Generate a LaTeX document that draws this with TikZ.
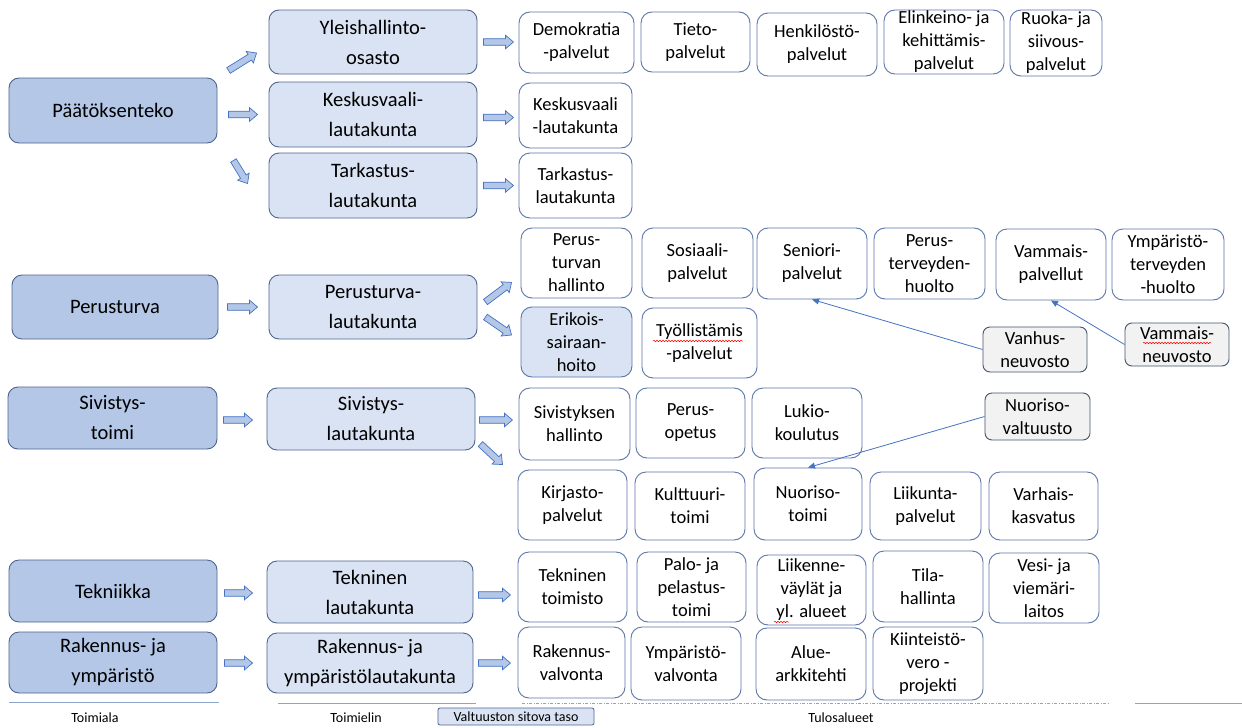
\documentclass[tikz,border=0pt]{standalone}
\usepackage{fontspec}
\setmainfont{Carlito}
\usetikzlibrary{calc,arrows.meta,decorations.pathmorphing}
\definecolor{cafill}{HTML}{B4C7E7}
\definecolor{cbfill}{HTML}{DAE3F3}
\definecolor{bord}{HTML}{4F6490}
\definecolor{ucbord}{HTML}{5B76A8}
\definecolor{grfill}{HTML}{F2F2F2}
\definecolor{grbord}{HTML}{44546A}
\definecolor{arrline}{HTML}{4472C4}
\definecolor{rulecol}{HTML}{8EA3C8}
\tikzset{
 big/.style={rounded corners=10pt, draw=bord, line width=0.9pt, inner sep=0pt, align=center, font=\fontsize{20.5}{30}\selectfont},
 lvla/.style={big, fill=cafill},
 lvlb/.style={big, fill=cbfill},
 unit/.style={rounded corners=11pt, draw=ucbord, line width=0.9pt, fill=white, inner sep=0pt, align=center, font=\fontsize{18.5}{23}\selectfont},
 unitb/.style={unit, fill=cbfill},
 council/.style={rounded corners=7pt, draw=grbord, line width=0.9pt, fill=grfill, inner sep=0pt, align=center, font=\fontsize{18.5}{23}\selectfont},
 blockarr/.style={fill=cafill, draw=arrline, line width=0.7pt, line join=miter},
 link/.style={draw=arrline, line width=0.8pt, -{Triangle[length=7pt,width=6pt]}},
 spell/.style={draw=red, line width=0.5pt, decorate, decoration={snake, segment length=3pt, amplitude=0.7pt}},
 caption/.style={font=\fontsize{14}{17}\selectfont, inner sep=0pt},
 solidrule/.style={draw=rulecol, line width=0.9pt},
 dotrule/.style={draw=rulecol, line width=0.9pt, dash pattern=on 3pt off 1.5pt on 1pt off 1.5pt},
}
\newcommand\bx[6]{\node[#1, minimum width=#3, minimum height=#4] (#2) at (#5) {#6};}
\newcommand\blkarrow[2]{%
 \path (#1) coordinate (ba-s) (#2) coordinate (ba-e);
 \path ($(ba-e)!8pt!(ba-s)$) coordinate (ba-m);
 \filldraw[blockarr] ($(ba-s)!3.3pt!90:(ba-e)$) -- ($(ba-m)!3.3pt!-90:(ba-s)$) -- ($(ba-m)!6.8pt!-90:(ba-s)$) -- (ba-e) -- ($(ba-m)!6.8pt!90:(ba-s)$) -- ($(ba-m)!3.3pt!90:(ba-s)$) -- ($(ba-s)!3.3pt!-90:(ba-e)$) -- cycle;}
\begin{document}
\begin{tikzpicture}[x=1pt,y=-1pt]
\useasboundingbox[fill=white] (0,0) rectangle (1242,728);
% column 1
\bx{lvla}{paat}{208}{65}{113,110.5}{Päätöksenteko}
\bx{lvla}{perus}{206}{64}{115,307}{Perusturva}
\bx{lvla}{sivi}{209}{62}{112.5,418}{Sivistys-\\toimi}
\bx{lvla}{tekn}{208}{62}{113,591}{Tekniikka}
\bx{lvla}{rak}{208}{61}{113,662.5}{Rakennus- ja\\ympäristö}
% column 2
\bx{lvlb}{yleis}{208}{64}{373,42}{Yleishallinto-\\osasto}
\bx{lvlb}{kesk}{208}{65}{373,114.5}{Keskusvaali-\\lautakunta}
\bx{lvlb}{tark}{208}{65}{373,185.5}{Tarkastus-\\lautakunta}
\bx{lvlb}{plk}{208}{64}{373,307}{Perusturva-\\lautakunta}
\bx{lvlb}{slk}{208}{62}{371,419}{Sivistys-\\lautakunta}
\bx{lvlb}{tlk}{206}{62}{370,592}{Tekninen\\lautakunta}
\bx{lvlb}{rlk}{206}{60}{370,663}{Rakennus- ja\\ympäristölautakunta}
% column 3
\bx{unit}{demo}{115}{61}{576.5,42.5}{Demokratia\\-palvelut}
\bx{unit}{tieto}{109}{60}{695.5,42}{Tieto-\\palvelut}
\bx{unit}{henk}{120}{63}{817,44.5}{Henkilöstö-\\palvelut}
\bx{unit}{elin}{120}{64}{944,42}{Elinkeino- ja\\kehittämis-\\palvelut}
\bx{unit}{ruoka}{92}{66}{1056,43}{Ruoka- ja\\siivous-\\palvelut}
\bx{unit}{keskl}{113}{65}{575.5,115.5}{Keskusvaali\\-lautakunta}
\bx{unit}{tarkl}{113}{65}{575.5,185.5}{Tarkastus-\\lautakunta}
\bx{unit}{ptha}{111}{70}{576.5,263}{Perus-\\turvan\\hallinto}
\bx{unit}{sos}{111}{70}{697.5,263}{Sosiaali-\\palvelut}
\bx{unit}{sen}{110}{71}{812,263.5}{Seniori-\\palvelut}
\bx{unit}{pth}{111}{71}{929.5,263.5}{Perus-\\terveyden-\\huolto}
\bx{unit}{vam}{110}{71}{1051,264.5}{Vammais-\\palvellut}
\bx{unit}{ymp}{112}{71}{1168,264.5}{Ympäristö-\\terveyden\\-huolto}
\bx{unitb}{erik}{111}{70}{576.5,342}{Erikois-\\sairaan-\\hoito}
\bx{unit}{tyo}{115}{70}{699.5,343}{Työllistämis\\-palvelut}
\bx{council}{vanh}{104}{45}{1035,349.5}{Vanhus-\\neuvosto}
\bx{council}{vamn}{104}{43}{1177,344.5}{Vammais-\\neuvosto}
\bx{unit}{sivh}{111}{72}{574.5,424}{Sivistyksen\\hallinto}
\bx{unit}{pop}{109}{70}{690.5,423}{Perus-\\opetus}
\bx{unit}{luk}{110}{70}{807,423}{Lukio-\\koulutus}
\bx{council}{nval}{105}{47}{1037.5,416.5}{Nuoriso-\\valtuusto}
\bx{unit}{kirj}{109}{70}{572.5,505}{Kirjasto-\\palvelut}
\bx{unit}{kult}{110}{68}{690,506}{Kulttuuri-\\toimi}
\bx{unit}{nuor}{108}{72}{808,504}{Nuoriso-\\toimi}
\bx{unit}{liik}{111}{68}{925.5,506}{Liikunta-\\palvelut}
\bx{unit}{varh}{109}{68}{1043.5,506}{Varhais-\\kasvatus}
\bx{unit}{tto}{109}{70}{572.5,587}{Tekninen\\toimisto}
\bx{unit}{palo}{109}{70}{691.5,587}{Palo- ja\\pelastus-\\toimi}
\bx{unit}{liikv}{109}{70}{811.5,590}{Liikenne-\\väylät ja\\yl. alueet}
\bx{unit}{tila}{110}{71}{928,586.5}{Tila-\\hallinta}
\bx{unit}{vesi}{110}{70}{1044,588}{Vesi- ja\\viemäri-\\laitos}
\bx{unit}{rval}{107}{71}{571.5,662.5}{Rakennus-\\valvonta}
\bx{unit}{yval}{110}{73}{686,663.5}{Ympäristö-\\valvonta}
\bx{unit}{alue}{110}{72}{811,664}{Alue-\\arkkitehti}
\bx{unit}{kiin}{110}{73}{928,663.5}{Kiinteistö-\\vero -\\projekti}
% block arrows
\blkarrow{$(paat.east)+(11,-40)$}{$(yleis.west)+(-12,11)$}
\blkarrow{$(paat.east |- kesk.west)+(11,0)$}{$(kesk.west)+(-11,0)$}
\blkarrow{$(paat.east)+(16,50)$}{$(tark.west)+(-21,-2)$}
\blkarrow{$(yleis.east)+(6,0)$}{$(yleis.east)+(36,0)$}
\blkarrow{$(kesk.east)+(6,3)$}{$(kesk.east)+(36,3)$}
\blkarrow{$(tark.east)+(6,0)$}{$(tark.east)+(36,0)$}
\blkarrow{$(perus.east)+(9,0)$}{$(plk.west)+(-11,0)$}
\blkarrow{$(plk.east)+(8,-5)$}{$(ptha.south west)+(-9,-16)$}
\blkarrow{$(plk.east)+(8,10)$}{$(erik.west)+(-9,-7)$}
\blkarrow{$(sivi.east)+(6,2)$}{$(slk.west)+(-14,1)$}
\blkarrow{$(slk.east)+(4,1)$}{$(slk.east)+(37,1)$}
\blkarrow{$(slk.east)+(5,25)$}{$(kirj.north west)+(-15,-5)$}
\blkarrow{$(tekn.east)+(7,2)$}{$(tlk.west)+(-14,1)$}
\blkarrow{$(tlk.east)+(5,3)$}{$(tlk.east)+(37,3)$}
\blkarrow{$(rak.east)+(7,0.5)$}{$(rlk.west)+(-14,0)$}
\blkarrow{$(rlk.east)+(5,0)$}{$(rlk.east)+(37,0)$}
% council links
\draw[link] (vanh.west) -- (sen.south);
\draw[link] (vamn.west) -- (vam.south);
\draw[link] (nval.west) -- (nuor.north);
% spelling marks
\draw[spell] (653,341) -- (743,341);
\draw[spell] (1143,343) -- (1211,343);
\draw[spell] (774,622) -- (789,622);
% bottom rules and captions
\coordinate (r1a) at (9,702); \coordinate (r1b) at (219,702);
\coordinate (r2a) at (278,703); \coordinate (r2b) at (476,703);
\coordinate (r3a) at (522,703); \coordinate (r3b) at (1110,703);
\coordinate (r4a) at (1135,703); \coordinate (r4b) at (1242,703);
\draw[solidrule] (r1a) -- (r1b);
\draw[solidrule] (r2a) -- (r2b);
\draw[dotrule] (r3a) -- (r3b);
\draw[solidrule] (r4a) -- (r4b);
\node[caption] (cap1) at (95,718) {Toimiala};
\node[caption] (cap2) at (356,718) {Toimielin};
\node[caption] (cap3) at (841,718) {Tulosalueet};
\node[caption, draw=bord, fill=cbfill, line width=0.8pt, rounded corners=2pt, minimum width=156, minimum height=17] (vst) at (516,716.5) {Valtuuston sitova taso};
\end{tikzpicture}
\end{document}
